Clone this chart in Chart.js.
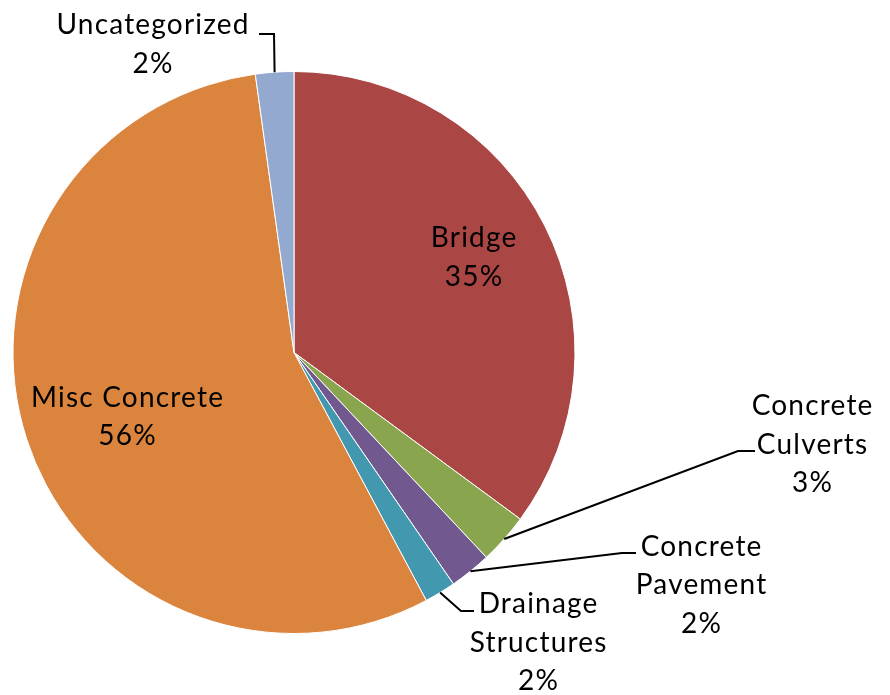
<!DOCTYPE html>
<html>
<head>
<meta charset="utf-8">
<script src="https://cdn.jsdelivr.net/npm/chart.js@4.4.1/dist/chart.umd.min.js"></script>
<style>
  html, body { margin: 0; padding: 0; background: #fff; }
  canvas { display: block; }
</style>
</head>
<body>
<canvas id="myChart" width="890" height="695"></canvas>
<script>
// share of work by category (percent)
const categories = ['Bridge', 'Concrete Culverts', 'Concrete Pavement', 'Drainage Structures', 'Misc Concrete', 'Uncategorized'];
const shares = [35.1, 2.9, 2.4, 1.8, 55.6, 2.2];
const colors = ['#AA4644', '#89A54E', '#71588F', '#4198AF', '#DB843D', '#93A9CF'];

// how each label is broken into lines
const labelLines = [
  ['Bridge'],
  ['Concrete', 'Culverts'],
  ['Concrete', 'Pavement'],
  ['Drainage', 'Structures'],
  ['Misc Concrete'],
  ['Uncategorized']
];

// label placement, offsets from the pie centre (first baseline, centred)
// elbow / end = leader line bend and the point where it meets the text
const labelPos = [
  { dx: 179.5, dy: -105.5 },
  { dx: 518, dy: 62.5, elbow: [444, 98.5], end: [461, 98.5] },
  { dx: 407, dy: 203, elbow: [328, 200.5], end: [342, 200.5] },
  { dx: 244, dy: 260.5, elbow: [167, 258.5], end: [180, 258.5] },
  { dx: -167, dy: 54 },
  { dx: -141.5, dy: -318.5, elbow: [-20, -318.5], end: [-35, -318.5] }
];

const FONT = '28px Lato';
const SPACING = 1.2;
const LINE_H = 38.5;

const total = shares.reduce((a, b) => a + b, 0);

const pieLabels = {
  id: 'pieLabels',
  afterDraw(chart) {
    const ctx = chart.ctx;
    const arcs = chart.getDatasetMeta(0).data;
    ctx.save();
    arcs.forEach((arc, i) => {
      const p = arc.getProps(['x', 'y', 'startAngle', 'endAngle', 'outerRadius'], true);
      const pos = labelPos[i];
      if (pos.elbow) {
        const mid = (p.startAngle + p.endAngle) / 2;
        ctx.beginPath();
        ctx.moveTo(p.x + Math.cos(mid) * p.outerRadius, p.y + Math.sin(mid) * p.outerRadius);
        ctx.lineTo(p.x + pos.elbow[0], p.y + pos.elbow[1]);
        ctx.lineTo(p.x + pos.end[0], p.y + pos.end[1]);
        ctx.strokeStyle = '#000';
        ctx.lineWidth = 2;
        ctx.stroke();
      }
      const lines = labelLines[i].concat([Math.round(shares[i] / total * 100) + '%']);
      ctx.font = FONT;
      ctx.letterSpacing = SPACING + 'px';
      ctx.fillStyle = '#000';
      ctx.textAlign = 'center';
      ctx.textBaseline = 'alphabetic';
      lines.forEach((t, k) => {
        // letterSpacing pads after the last glyph too, nudge back half of it
        ctx.fillText(t, p.x + pos.dx + SPACING / 2, p.y + pos.dy + k * LINE_H);
      });
    });
    ctx.restore();
  }
};

const ctx = document.getElementById('myChart').getContext('2d');
const myChart = new Chart(ctx, {
  type: 'pie',
  data: {
    labels: categories,
    datasets: [{
      data: shares,
      backgroundColor: colors,
      borderColor: '#ffffff',
      borderWidth: 1
    }]
  },
  options: {
    responsive: false,
    animation: false,
    layout: { padding: { left: 12.5, right: 314.5, top: 71, bottom: 61 } },
    plugins: {
      legend: { display: false },
      tooltip: { enabled: false }
    }
  },
  plugins: [pieLabels]
});
</script>
</body>
</html>
